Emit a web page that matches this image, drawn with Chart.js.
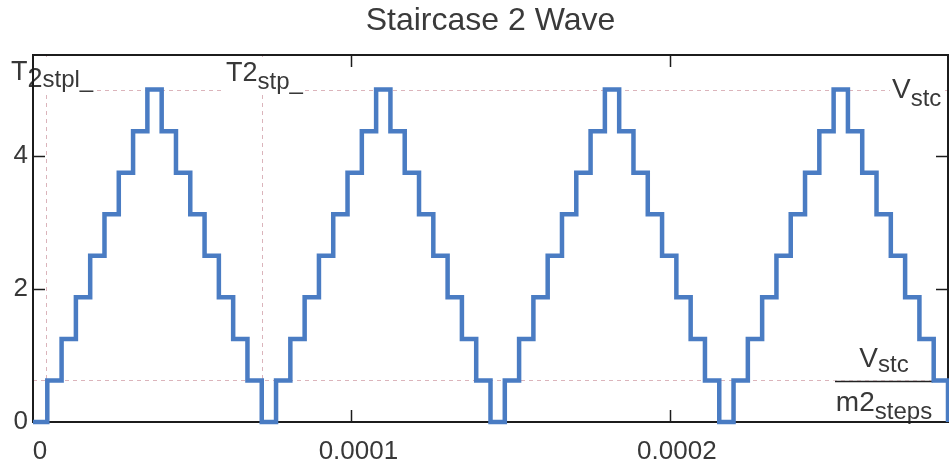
<!DOCTYPE html>
<html>
<head>
<meta charset="utf-8">
<script src="https://cdn.jsdelivr.net/npm/chart.js@4/dist/chart.umd.min.js"></script>
<style>
  html, body { margin: 0; padding: 0; background: #ffffff; }
  canvas { display: block; }
</style>
</head>
<body>
<canvas id="wave" width="949" height="462"></canvas>
<script>
// Start time of each stair step, in microseconds (last entry closes the final step)
const stepStartMicros = [
  0, 4.49, 8.98, 13.47, 17.96, 22.45, 26.94, 31.43,
  35.92, 40.41, 44.90, 49.39, 53.88, 58.37, 62.86, 67.35,
  71.84, 76.33, 80.82, 85.31, 89.80, 94.29, 98.78, 103.27,
  107.76, 112.25, 116.74, 121.23, 125.72, 130.21, 134.70, 139.19,
  143.68, 148.17, 152.66, 157.15, 161.64, 166.13, 170.62, 175.11,
  179.60, 184.09, 188.58, 193.07, 197.56, 202.05, 206.54, 211.03,
  215.52, 220.01, 224.50, 228.99, 233.48, 237.97, 242.46, 246.95,
  251.44, 255.93, 260.42, 264.91, 269.40, 273.89, 278.38, 282.87,
  287.36
];

// Output level held during each step (V)
const stepLevels = [
  0, 0.625, 1.25, 1.875, 2.5, 3.125, 3.75, 4.375,
  5, 4.375, 3.75, 3.125, 2.5, 1.875, 1.25, 0.625,
  0, 0.625, 1.25, 1.875, 2.5, 3.125, 3.75, 4.375,
  5, 4.375, 3.75, 3.125, 2.5, 1.875, 1.25, 0.625,
  0, 0.625, 1.25, 1.875, 2.5, 3.125, 3.75, 4.375,
  5, 4.375, 3.75, 3.125, 2.5, 1.875, 1.25, 0.625,
  0, 0.625, 1.25, 1.875, 2.5, 3.125, 3.75, 4.375,
  5, 4.375, 3.75, 3.125, 2.5, 1.875, 1.25, 0.625,
  0
];

const xTickValues = [0, 0.0001, 0.0002];
const xTickLabels = ['0', '0.0001', '0.0002'];
const yTickValues = [0, 2, 4];
const yTickLabels = ['0', '2', '4'];

// Marker positions: T2stpl_, T2stp_ (s) and the Vstc / Vstc/m2steps levels (V)
const markerTimes = [4.0e-6, 7.184e-5];
const markerLevels = [5, 0.625];

const X_MAX = 2.8736e-4;
const Y_MAX = 5.52;

const FONT = '"Liberation Sans", Arial, sans-serif';
const TEXT_COLOR = '#383838';
const MARKER_COLOR = 'rgba(200, 140, 150, 0.65)';

const points = stepStartMicros.map((t, i) => ({ x: t * 1e-6, y: stepLevels[i] }));

// Draws a run of text pieces, each with its own size and baseline shift
function drawPieces(ctx, x, baseline, pieces) {
  let cx = x;
  for (const p of pieces) {
    ctx.font = p.size + 'px ' + FONT;
    ctx.fillText(p.text, cx, baseline + (p.dy || 0));
    cx += ctx.measureText(p.text).width;
  }
  return cx;
}
function piecesWidth(ctx, pieces) {
  let w = 0;
  for (const p of pieces) {
    ctx.font = p.size + 'px ' + FONT;
    w += ctx.measureText(p.text).width;
  }
  return w;
}

const markerPlugin = {
  id: 'markers',
  beforeDatasetsDraw(chart) {
    const { ctx, chartArea: a, scales } = chart;
    const xs = scales.x, ys = scales.y;
    ctx.save();

    // dashed marker lines
    ctx.strokeStyle = MARKER_COLOR;
    ctx.lineWidth = 1;
    ctx.setLineDash([4, 4]);
    for (const v of markerLevels) {
      const py = Math.round(ys.getPixelForValue(v)) + 0.5;
      ctx.beginPath();
      ctx.moveTo(a.left, py);
      ctx.lineTo(a.right, py);
      ctx.stroke();
    }
    for (const t of markerTimes) {
      const px = Math.round(xs.getPixelForValue(t)) + 0.5;
      ctx.beginPath();
      ctx.moveTo(px, a.top);
      ctx.lineTo(px, a.bottom);
      ctx.stroke();
    }
    ctx.setLineDash([]);

    ctx.fillStyle = TEXT_COLOR;
    ctx.textBaseline = 'alphabetic';
    ctx.textAlign = 'left';

    const label = (x, base, pieces, pad) => {
      const w = piecesWidth(ctx, pieces);
      ctx.fillStyle = '#ffffff';
      ctx.fillRect(x - 2, pad.top, w + 4, pad.bottom - pad.top);
      ctx.fillStyle = TEXT_COLOR;
      drawPieces(ctx, x, base, pieces);
    };

    // T2stpl_ label near the first marker
    label(11, 80, [
      { text: 'T', size: 27 },
      { text: '2', size: 27, dy: 7 },
      { text: 'stpl_', size: 24, dy: 7 }
    ], { top: a.top + 2, bottom: 93 });

    // T2stp_ label near the second marker
    label(226, 81, [
      { text: 'T2', size: 27 },
      { text: 'stp_', size: 24, dy: 8 }
    ], { top: a.top + 2, bottom: 92 });

    // Vstc label at the top level
    const vTop = ys.getPixelForValue(markerLevels[0]);
    label(892, vTop + 8, [
      { text: 'V', size: 28 },
      { text: 'stc', size: 24, dy: 8 }
    ], { top: vTop - 16, bottom: vTop + 18 });

    // Vstc / m2steps fraction sitting on the lower level
    const vLow = ys.getPixelForValue(markerLevels[1]);
    const num = [{ text: 'V', size: 28 }, { text: 'stc', size: 24, dy: 5 }];
    const den = [{ text: 'm2', size: 28 }, { text: 'steps', size: 24, dy: 8 }];
    const barL = 835, barR = 933, cx = (barL + barR) / 2;
    ctx.fillStyle = '#ffffff';
    ctx.fillRect(barL - 3, vLow - 40, barR - barL + 2, 40);
    ctx.fillStyle = TEXT_COLOR;
    drawPieces(ctx, cx - piecesWidth(ctx, num) / 2, vLow - 13, num);
    drawPieces(ctx, cx - piecesWidth(ctx, den) / 2, vLow + 31, den);
    ctx.strokeStyle = '#222222';
    ctx.lineWidth = 1.5;
    ctx.beginPath();
    ctx.moveTo(barL, vLow + 1);
    ctx.lineTo(barR, vLow + 1);
    ctx.stroke();

    // plot frame with inward tick marks
    ctx.strokeStyle = '#1c1c1c';
    ctx.lineWidth = 2;
    ctx.strokeRect(a.left, a.top, a.right - a.left, a.bottom - a.top);
    ctx.lineWidth = 1.5;
    const tick = 12;
    ctx.beginPath();
    for (const v of xTickValues) {
      if (v <= xs.min) continue;
      const px = Math.round(xs.getPixelForValue(v)) + 0.5;
      ctx.moveTo(px, a.bottom); ctx.lineTo(px, a.bottom - tick);
      ctx.moveTo(px, a.top); ctx.lineTo(px, a.top + tick);
    }
    for (const v of yTickValues) {
      if (v <= ys.min) continue;
      const py = Math.round(ys.getPixelForValue(v)) + 0.5;
      ctx.moveTo(a.left, py); ctx.lineTo(a.left + tick, py);
      ctx.moveTo(a.right, py); ctx.lineTo(a.right - tick, py);
    }
    ctx.stroke();
    ctx.restore();
  }
};

new Chart(document.getElementById('wave'), {
  type: 'line',
  data: {
    datasets: [{
      data: points,
      stepped: 'before',
      borderColor: '#4a7cc3',
      borderWidth: 4.5,
      borderJoinStyle: 'miter',
      borderCapStyle: 'butt',
      pointRadius: 0,
      fill: false,
      clip: 6
    }]
  },
  options: {
    responsive: false,
    animation: false,
    devicePixelRatio: 1,
    layout: { padding: { left: 0, right: 1, top: 0, bottom: 0 } },
    plugins: {
      legend: { display: false },
      tooltip: { enabled: false },
      title: {
        display: true,
        text: 'Staircase 2 Wave',
        fullSize: false,
        color: '#3a3a3a',
        font: { family: FONT, size: 32, weight: 'normal', lineHeight: 1.2 },
        padding: { top: 2, bottom: 14.6 }
      }
    },
    scales: {
      x: {
        type: 'linear',
        min: 0,
        max: X_MAX,
        grid: { display: false, drawTicks: false },
        border: { display: false },
        afterBuildTicks: s => { s.ticks = xTickValues.map(v => ({ value: v })); },
        afterFit: s => { s.height = 40; },
        ticks: {
          autoSkip: false,
          maxRotation: 0,
          labelOffset: 7,
          padding: 14,
          color: TEXT_COLOR,
          font: { family: FONT, size: 26 },
          callback: (v, i) => xTickLabels[i]
        }
      },
      y: {
        type: 'linear',
        min: 0,
        max: Y_MAX,
        grid: { display: false, drawTicks: false },
        border: { display: false },
        afterBuildTicks: s => { s.ticks = yTickValues.map(v => ({ value: v })); },
        afterFit: s => { s.width = 33; },
        ticks: {
          padding: 5,
          color: TEXT_COLOR,
          font: { family: FONT, size: 26 },
          callback: (v, i) => yTickLabels[i]
        }
      }
    }
  },
  plugins: [markerPlugin]
});
</script>
</body>
</html>
